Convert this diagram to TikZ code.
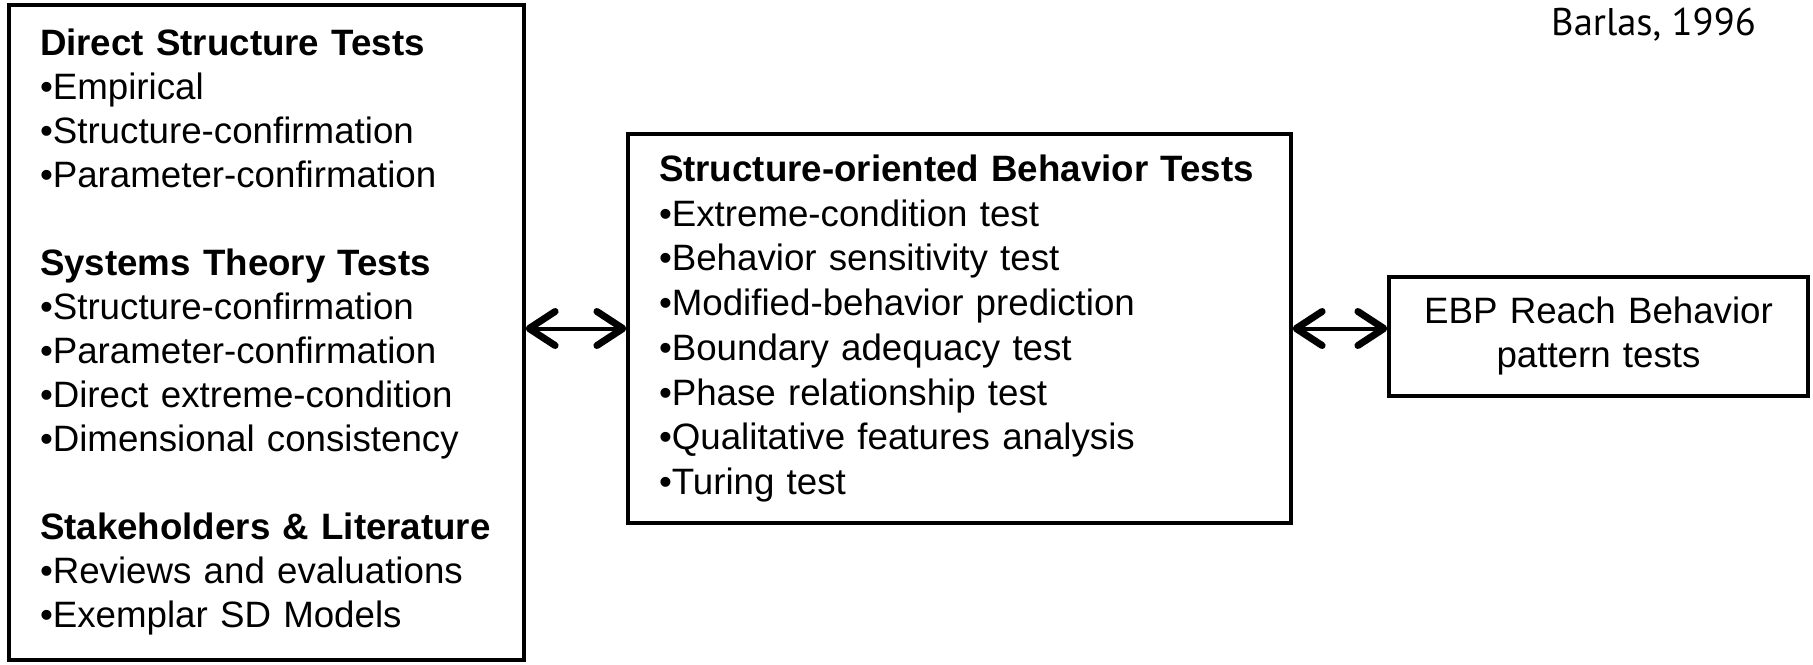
\documentclass[tikz,border=0pt]{standalone}
\usepackage{fontspec}
\setmainfont{Liberation Sans}
\newfontfamily\citefont{PT Sans}
\usetikzlibrary{positioning, arrows.meta}

\tikzset{
    testbox/.style={draw, line width=1.6pt, inner xsep=15.5pt, inner ysep=0pt,
        font=\fontsize{18.35}{22}\selectfont},
    twoway/.style={line width=2pt,
        {Straight Barb[length=13pt, width=17pt, line width=3.5pt, round]}-{Straight Barb[length=13pt, width=17pt, line width=3.5pt, round]}},
}

\begin{document}
\begin{tikzpicture}[x=0.5pt, y=-0.5pt]
    \useasboundingbox (0,0) rectangle (1813,664);

    % Direct tests
    \node [testbox, align=left, text width=226.5pt, minimum height=327.5pt] (direct) at (266.5,332.5) {%
        \textbf{Direct Structure Tests}\\
        •Empirical\\
        •Structure-confirmation\\
        •Parameter-confirmation\\[22pt]
        \textbf{Systems Theory Tests}\\
        •Structure-confirmation\\
        •Parameter-confirmation\\
        •Direct extreme-condition\\
        •Dimensional consistency\\[22pt]
        \textbf{Stakeholders \& Literature}\\
        •Reviews and evaluations\\
        •Exemplar SD Models};

    % Structure-oriented behavior tests
    \node [testbox, font=\fontsize{18.35}{22.35}\selectfont, align=left, text width=300.5pt,
           minimum height=194.5pt, right=50.4pt of direct, yshift=2pt] (behavior) {%
        \textbf{Structure-oriented Behavior Tests}\\
        •Extreme-condition test\\
        •Behavior sensitivity test\\
        •Modified-behavior prediction\\
        •Boundary adequacy test\\
        •Phase relationship test\\
        •Qualitative features analysis\\
        •Turing test};

    % Behavior pattern tests
    \node [testbox, align=center, text width=178.5pt, minimum height=59.5pt,
           right=47.4pt of behavior, yshift=-4pt] (pattern) {%
        EBP Reach Behavior\\
        pattern tests};

    \node [font=\citefont\fontsize{19.3}{22}\selectfont] (source) at (1653.5,25) {Barlas, 1996};

    \draw [twoway] (direct.east |- behavior.west) -- (behavior.west);
    \draw [twoway] (behavior.east) -- (pattern.west |- behavior.east);
\end{tikzpicture}
\end{document}
